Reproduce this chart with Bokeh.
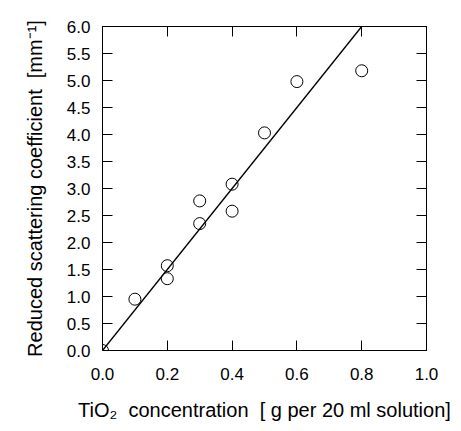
from bokeh.plotting import figure
from bokeh.models import LinearAxis, FixedTicker, CustomJSTickFormatter
from bokeh.embed import file_html
from bokeh.resources import INLINE

# Data
tio2_conc = [0.0, 0.1, 0.2, 0.2, 0.3, 0.3, 0.4, 0.4, 0.5, 0.6, 0.8]
scattering = [0.0, 0.95, 1.57, 1.33, 2.77, 2.35, 3.08, 2.58, 4.03, 4.98, 5.18]
fit_x = [0.0, 0.8]
fit_y = [0.0, 6.0]
x_ticks = [0.0, 0.2, 0.4, 0.6, 0.8, 1.0]
y_ticks = [0.0, 0.5, 1.0, 1.5, 2.0, 2.5, 3.0, 3.5, 4.0, 4.5, 5.0, 5.5, 6.0]

FONT = "Liberation Sans"
NB = "\u00a0"

p = figure(width=450, height=423, x_range=(0, 1), y_range=(0, 6),
           output_backend="svg", toolbar_location=None,
           min_border_left=102, min_border_top=26, min_border_right=24, min_border_bottom=60)
p.xgrid.visible = False
p.ygrid.visible = False
p.outline_line_color = "black"
p.outline_line_width = 1
p.background_fill_color = "white"
p.border_fill_color = "white"

def style(ax, ticks):
    ax.ticker = FixedTicker(ticks=ticks)
    ax.major_tick_in = 10
    ax.major_tick_out = 0
    ax.minor_tick_line_color = None
    ax.axis_line_color = "black"
    ax.major_tick_line_color = "black"
    ax.major_label_text_font = FONT
    ax.major_label_text_font_size = "17px"
    ax.major_label_text_color = "black"
    ax.axis_label_text_font = FONT
    ax.axis_label_text_font_size = "20px"
    ax.axis_label_text_font_style = "normal"
    ax.axis_label_text_color = "black"

style(p.xaxis[0], x_ticks)
style(p.yaxis[0], y_ticks)
fmt = CustomJSTickFormatter(code="return tick.toFixed(1);")
p.xaxis[0].formatter = fmt
p.yaxis[0].formatter = fmt
p.xaxis[0].major_label_standoff = 17
p.yaxis[0].major_label_standoff = 12
p.xaxis[0].axis_label = "TiO\u2082" + NB + NB + "concentration" + NB + NB + "[ g per 20 ml solution]"
p.yaxis[0].axis_label = "Reduced scattering coefficient" + NB + NB + "[mm\u207b\u00b9]"
p.xaxis[0].axis_label_standoff = 16
p.yaxis[0].axis_label_standoff = 18

top = LinearAxis()
style(top, x_ticks)
top.major_label_text_color = None
top.major_label_standoff = 0
p.add_layout(top, "above")
right = LinearAxis()
style(right, y_ticks)
right.major_label_text_color = None
right.major_label_standoff = 0
p.add_layout(right, "right")

p.line(fit_x, fit_y, line_color="black", line_width=1.3)
p.scatter(tio2_conc, scattering, marker="circle", size=12,
          fill_color=None, line_color="black", line_width=1)

open("out.html", "w").write(file_html(p, INLINE))
